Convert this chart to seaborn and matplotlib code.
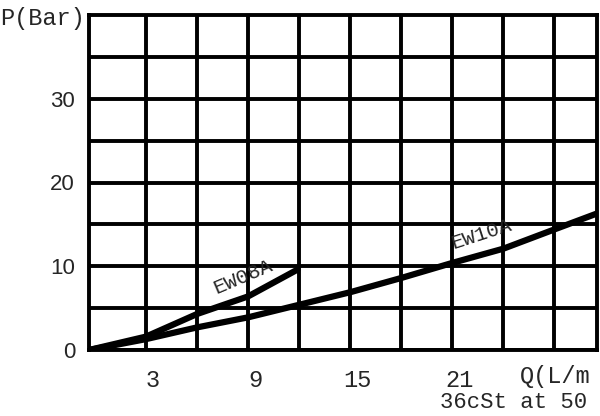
import numpy as np
import pandas as pd
import seaborn as sns
import matplotlib.pyplot as plt
from matplotlib.ticker import FixedLocator
from matplotlib.transforms import ScaledTranslation

# values
q_ew10a = [-0.35, 3, 6, 9, 12, 15, 18, 21, 24, 27, 29.5]
p_ew10a = [0.0, 1.3, 2.7, 3.9, 5.4, 6.9, 8.6, 10.4, 12.1, 14.4, 16.3]
q_ew08a = [-0.35, 3, 6, 9, 11.9]
p_ew08a = [0.0, 1.6, 4.3, 6.4, 9.6]

x_ticks = [3, 9, 15, 21]
y_ticks = [0, 10, 20, 30]
x_grid = np.arange(3, 30, 3)
y_grid = np.arange(5, 40, 5)

df = pd.concat([
    pd.DataFrame({"Q": q_ew10a, "P": p_ew10a, "model": "EW10A"}),
    pd.DataFrame({"Q": q_ew08a, "P": p_ew08a, "model": "EW08A"}),
])

sns.set_style("white")
mono = "Liberation Mono"

fig = plt.figure(figsize=(6, 4.16), dpi=100)
ax = fig.add_axes([89 / 600, 66 / 416, 508 / 600, 335 / 416])

sns.lineplot(
    data=df, x="Q", y="P", hue="model",
    palette={"EW10A": "black", "EW08A": "black"},
    linewidth=4.5, legend=False, ax=ax, sort=False,
    solid_capstyle="round",
)

ax.set_xlim(-0.35, 29.5)
ax.set_ylim(0, 40)

ax.set_xticks(x_ticks)
ax.set_yticks(y_ticks)
ax.xaxis.set_minor_locator(FixedLocator(x_grid))
ax.yaxis.set_minor_locator(FixedLocator(y_grid))
ax.grid(True, which="both", color="black", linewidth=2.8)
ax.tick_params(which="both", length=0)
ax.tick_params(axis="x", pad=14)
ax.tick_params(axis="y", pad=10)
for sp in ax.spines.values():
    sp.set_color("black")
    sp.set_linewidth(2.8)

ax.set_xticklabels([str(v) for v in x_ticks], fontfamily=mono, fontsize=17)
ax.set_yticklabels([str(v) for v in y_ticks], fontfamily="Liberation Sans", fontsize=16)
for lab in ax.get_xticklabels():
    lab.set_transform(lab.get_transform() + ScaledTranslation(5 / 72, 0, fig.dpi_scale_trans))
ax.set_xlabel("")
ax.set_ylabel("")

ax.text(8.7, 8.7, "EW08A", fontfamily=mono, fontsize=15, rotation=23,
        ha="center", va="center")
ax.text(22.7, 13.8, "EW10A", fontfamily=mono, fontsize=15, rotation=18,
        ha="center", va="center")

fig.text(0.0, 1 - 19 / 416, "P(Bar)", fontfamily=mono, fontsize=17,
         ha="left", va="center")
fig.text(520 / 600, 1 - 377 / 416, "Q(L/m", fontfamily=mono, fontsize=17,
         ha="left", va="center")
fig.text(440 / 600, 1 - 403 / 416, "36cSt at 50", fontfamily=mono, fontsize=16,
         ha="left", va="center")

fig.savefig("out.png", dpi=100)
